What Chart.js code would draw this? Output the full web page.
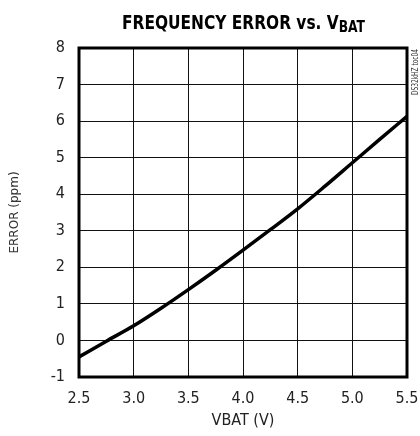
<!DOCTYPE html>
<html>
<head>
<meta charset="utf-8">
<script src="https://cdn.jsdelivr.net/npm/chart.js@4"></script>
<style>
  html, body { margin: 0; padding: 0; background: #fff; }
  #wrap { width: 420px; height: 436px; position: relative; }
</style>
</head>
<body>
<div id="wrap"><canvas id="grafico" width="420" height="436"></canvas></div>
<script>
// tensão da bateria (V) e erro de frequência (ppm)
const vbat = [2.5, 2.75, 3.0, 3.25, 3.5, 3.75, 4.0, 4.25, 4.5, 4.75, 5.0, 5.25, 5.5];
const erro = [-0.45, -0.02, 0.4, 0.88, 1.39, 1.92, 2.47, 3.03, 3.6, 4.22, 4.86, 5.5, 6.13];
const yTicks = [-1, 0, 1, 2, 3, 4, 5, 6, 7, 8];
const xTicks = [2.5, 3.0, 3.5, 4.0, 4.5, 5.0, 5.5];

const fonteEstreita = '"Liberation Sans Narrow", "DejaVu Sans Condensed", "Liberation Sans", sans-serif';

// === Título com subscrito e moldura grossa ===
const molduraTitulo = {
  id: 'molduraTitulo',
  afterDraw(chart) {
    const { ctx, chartArea: a } = chart;
    ctx.save();
    ctx.strokeStyle = '#000';
    ctx.lineWidth = 3;
    ctx.strokeRect(a.left, a.top, a.right - a.left, a.bottom - a.top);
    ctx.restore();

    // título (comprimido na horizontal, como no original)
    const principal = 'FREQUENCY ERROR vs. V';
    const sub = 'BAT';
    ctx.save();
    ctx.fillStyle = '#000';
    ctx.textBaseline = 'alphabetic';
    ctx.font = 'bold 20px ' + fonteEstreita;
    const w1 = ctx.measureText(principal).width;
    ctx.font = 'bold 16px ' + fonteEstreita;
    const w2 = ctx.measureText(sub).width;
    const escala = 243 / (w1 + w2);
    ctx.translate(122, 0);
    ctx.scale(escala, 1);
    ctx.font = 'bold 20px ' + fonteEstreita;
    ctx.fillText(principal, 0, 29);
    ctx.font = 'bold 16px ' + fonteEstreita;
    ctx.fillText(sub, w1, 32);
    ctx.restore();

    // código lateral
    ctx.save();
    ctx.translate(416, 95);
    ctx.rotate(-Math.PI / 2);
    ctx.font = '9px ' + fonteEstreita;
    ctx.textBaseline = 'middle';
    const wc = ctx.measureText('DS32kHZ toc04').width;
    ctx.scale(46 / wc, 1);
    ctx.fillStyle = '#333';
    ctx.fillText('DS32kHZ toc04', 0, 0);
    ctx.restore();
  }
};

const ctx = document.getElementById('grafico').getContext('2d');
new Chart(ctx, {
  type: 'line',
  data: {
    datasets: [{
      data: vbat.map((v, i) => ({ x: v, y: erro[i] })),
      borderColor: '#000',
      borderWidth: 3.5,
      pointRadius: 0,
      cubicInterpolationMode: 'monotone',
      fill: false
    }]
  },
  options: {
    responsive: false,
    animation: false,
    layout: { padding: { top: 48, right: 13, left: 0, bottom: 0 } },
    plugins: { legend: { display: false }, tooltip: { enabled: false } },
    scales: {
      x: {
        type: 'linear',
        min: 2.5,
        max: 5.5,
        afterBuildTicks: s => { s.ticks = xTicks.map(v => ({ value: v })); },
        afterFit: s => { s.height = 59; s.paddingLeft = 0; s.paddingRight = 0; },
        grid: { color: '#111', lineWidth: 1, drawTicks: false },
        border: { display: false },
        ticks: {
          padding: 12,
          color: '#222',
          font: { family: fonteEstreita, size: 16 },
          callback: v => v.toFixed(1)
        },
        title: {
          display: true,
          text: 'VBAT (V)',
          color: '#222',
          font: { family: fonteEstreita, size: 16 },
          padding: { top: 0, bottom: 6 }
        }
      },
      y: {
        min: -1,
        max: 8,
        afterBuildTicks: s => { s.ticks = yTicks.map(v => ({ value: v })); },
        afterFit: s => { s.width = 79; s.paddingTop = 0; s.paddingBottom = 0; },
        grid: { color: '#111', lineWidth: 1, drawTicks: false },
        border: { display: false },
        ticks: {
          padding: 14,
          color: '#222',
          font: { family: fonteEstreita, size: 16 }
        },
        title: {
          display: true,
          text: 'ERROR (ppm)',
          color: '#333',
          font: { family: '"DejaVu Sans", sans-serif', size: 12 },
          padding: { top: 8, bottom: 0 }
        }
      }
    }
  },
  plugins: [molduraTitulo]
});
</script>
</body>
</html>
